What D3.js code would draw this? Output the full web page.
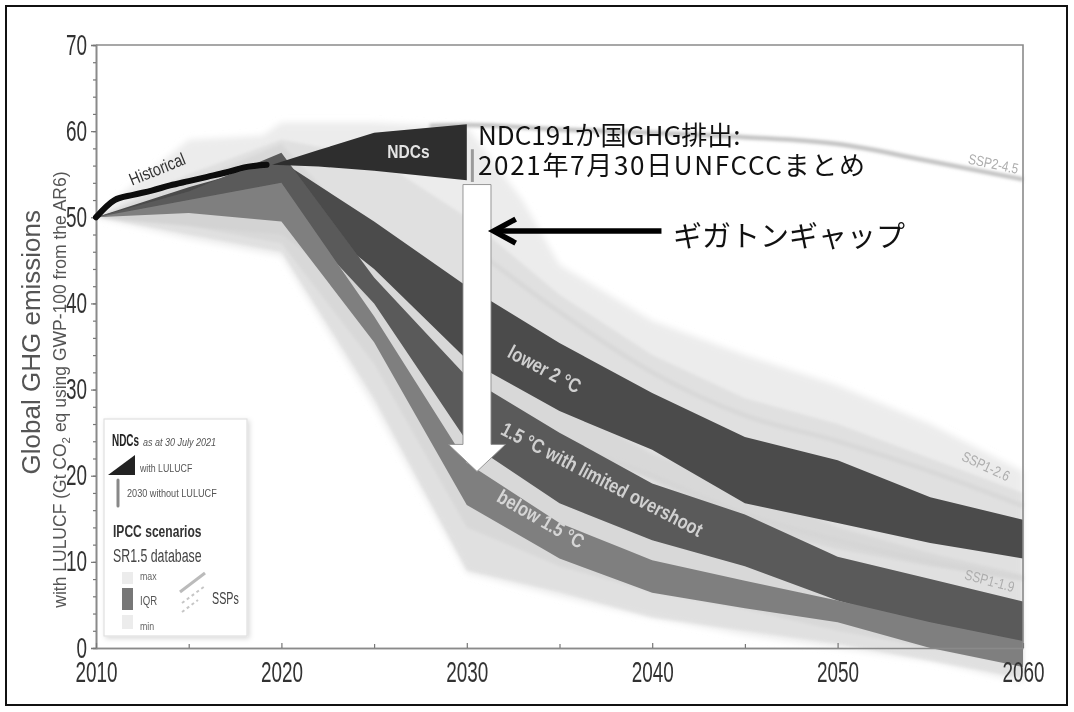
<!DOCTYPE html>
<html><head><meta charset="utf-8">
<script src="https://cdn.jsdelivr.net/npm/d3@7"></script>
<style>
html,body{margin:0;padding:0;background:#fff;}
svg{display:block;}
</style></head><body>
<svg id="chart" width="1074" height="712"></svg>
<script>
// ---- data (Gt CO2-eq) ----
const years = [2010, 2015, 2020, 2025, 2030, 2035, 2040, 2045, 2050, 2055, 2060];

const histYears  = [2010, 2011, 2012, 2013, 2014, 2015, 2016, 2017, 2018, 2019.2];
const histValues = [50.0, 52.0, 52.6, 53.1, 53.7, 54.2, 54.7, 55.2, 55.8, 56.1];

const ndcYears = [2019.5, 2022, 2025, 2030];
const ndcUpper = [56.1, 57.8, 59.8, 60.8];
const ndcLower = [56.1, 55.9, 55.4, 54.3];
const ndcNoLulucf = [54.1, 57.9];   // 2030 range without LULUCF

// IPCC SR1.5 categories: interquartile ranges
const lower2Q75 = [50, 53.5, 56.5, 49.5, 42.0, 35.4, 29.6, 24.5, 21.8, 17.5, 14.9];
const lower2Q25 = [50, 51.5, 52.5, 44.0, 33.5, 27.5, 23.0, 16.8, 14.5, 12.2, 10.4];
const limQ75    = [50, 53.0, 57.5, 43.0, 31.5, 25.0, 19.1, 15.5, 10.6,  8.0,  5.4];
const limQ25    = [50, 51.0, 51.5, 40.0, 24.0, 16.8, 12.5,  9.5,  5.5,  2.5,  0.5];
const belowQ75  = [50, 52.0, 54.0, 38.5, 21.5, 14.5, 10.2,  7.8,  5.5,  3.0,  0.8];
const belowQ25  = [50, 50.5, 49.5, 35.5, 16.6, 10.4,  6.4,  4.6,  3.0,  0.0, -2.2];

// IPCC SR1.5 categories: max / min ranges
const lower2Max = [50, 55.0, 59.0, 57.0, 50.0, 41.0, 34.0, 29.0, 26.0, 22.0, 18.0];
const lower2Min = [50, 49.0, 48.0, 40.0, 30.0, 24.0, 19.5, 14.0, 11.5,  9.5,  8.0];
const limMax    = [50, 54.0, 58.5, 47.0, 35.0, 28.5, 22.5, 19.0, 14.0, 11.0,  8.5];
const limMin    = [50, 49.0, 47.0, 33.0, 14.0,  9.5,  6.5,  4.5,  2.0,  0.0, -2.0];
const belowMax  = [50, 53.0, 56.0, 42.0, 26.0, 18.5, 13.0, 10.5,  8.0,  5.5,  3.0];
const belowMin  = [50, 48.0, 46.0, 29.0,  9.0,  6.5,  3.5,  2.0,  0.5, -1.5, -3.5];

// overall scenario envelope
const envMaxYears = [2010, 2011, 2015, 2019, 2020, 2025, 2030, 2033, 2035, 2040, 2045, 2050, 2055, 2060];
const envMax      = [50, 52, 59, 59.5, 61, 61, 60.5, 52, 44.5, 38, 34, 30.5, 26, 20.5];
const envMinYears = [2010, 2015, 2020, 2025, 2030, 2035, 2040, 2045, 2050, 2055, 2060];
const envMin      = [50, 47.5, 45.5, 28, 8.7, 6, 3.5, 1.5, 0, -1.5, -4];

// SSP pathways
const ssp245Years = [2028, 2030, 2035, 2040, 2045, 2050, 2055, 2060];
const ssp245      = [60.6, 60.7, 60.2, 59.8, 59.3, 58.5, 56.5, 54.4];
const ssp1Years   = [2030, 2035, 2040, 2045, 2050, 2055, 2060];
const ssp126      = [47, 39, 32, 27, 24, 20.5, 16.5];
const ssp119      = [30, 24, 20, 15.5, 12.5, 10, 8];

const yTicks = [0, 10, 20, 30, 40, 50, 60, 70];
const xTicks = [2010, 2020, 2030, 2040, 2050, 2060];

// gap annotation (year, from -> to)
const gapYear = 2030.55, gapFrom = 53.8, gapTo = 20.5;
const pointerValue = 48.4, pointerFrom = 2040.5, pointerTo = 2031.45;

// ---- drawing ----
const svg = d3.select("#chart");
const x = d3.scaleLinear().domain([2010, 2060]).range([96, 1023]);
const y = d3.scaleLinear().domain([0, 70]).range([648, 45]);

const SANS = "'Liberation Sans',Arial,sans-serif";
const JP = "'Noto Sans CJK JP','Noto Sans CJK SC',sans-serif";

const defs = svg.append("defs");
const mkBlur = (id, sd) => defs.append("filter").attr("id", id)
  .attr("x", "-10%").attr("y", "-10%").attr("width", "120%").attr("height", "120%")
  .append("feGaussianBlur").attr("stdDeviation", sd);
mkBlur("soft", 0.7);
mkBlur("haze", 3);
mkBlur("haze2", 1.6);
const f4 = defs.append("filter").attr("id", "shadow").attr("x", "-10%").attr("y", "-10%").attr("width", "130%").attr("height", "130%");
f4.append("feDropShadow").attr("dx", 2).attr("dy", 2).attr("stdDeviation", 2.5).attr("flood-color", "#000").attr("flood-opacity", 0.15);

svg.append("rect").attr("width", 1074).attr("height", 712).attr("fill", "#fff");

const chart = svg.append("g").attr("filter", "url(#soft)");

// condensed text helper: Liberation Sans squeezed horizontally
const ctext = (g, txt, px, py, o) => {
  o = o || {};
  const sx = o.sx || 0.82;
  return g.append("text")
    .attr("transform", `translate(${px},${py}) rotate(${o.rot || 0}) scale(${sx},1)`)
    .attr("text-anchor", o.anchor || "start")
    .attr("dominant-baseline", o.baseline || "auto")
    .attr("font-family", SANS).attr("font-size", o.size || 12)
    .attr("font-weight", o.weight || "normal")
    .attr("font-style", o.style || "normal")
    .attr("fill", o.fill || "#333").text(txt);
};

// axis lines and ticks
const yAxis = chart.append("g").attr("transform", `translate(${x(2010)},0)`)
  .call(d3.axisLeft(y).tickValues(yTicks).tickSize(5).tickPadding(4));
const yMinor = chart.append("g").attr("transform", `translate(${x(2010)},0)`)
  .call(d3.axisLeft(y).tickValues(d3.range(0, 71, 2)).tickSize(3).tickFormat(""));
const xMinor = chart.append("g").attr("transform", `translate(0,${y(0)})`)
  .call(d3.axisBottom(x).tickValues(d3.range(2015, 2060, 10)).tickSizeInner(-4).tickSizeOuter(0).tickFormat(""));
const SX = 0.63;
yAxis.selectAll(".tick text")
  .attr("font-family", SANS).attr("font-size", 30).attr("fill", "#333")
  .attr("x", -9 / SX).attr("dy", "0.3em").attr("transform", `scale(${SX},1)`);

// axis titles
chart.append("text")
  .attr("transform", `translate(40,${(y(20) + y(51)) / 2}) rotate(-90)`)
  .attr("text-anchor", "middle").attr("font-family", SANS).attr("font-size", 26).attr("fill", "#555")
  .text("Global GHG emissions");
const sub = chart.append("text")
  .attr("transform", `translate(66,${y(30)}) rotate(-90)`)
  .attr("text-anchor", "middle").attr("font-family", SANS).attr("font-size", 17.5).attr("fill", "#555");
sub.append("tspan").text("with LULUCF (Gt CO");
sub.append("tspan").attr("font-size", 11.5).attr("dy", 4).text("2");
sub.append("tspan").attr("dy", -4).text(" eq using GWP-100 from the AR6)");

// generic shapes
const bandPath = (xs, hi, lo) => d3.area()
  .x((d, i) => x(xs[i])).y0((d, i) => y(lo[i])).y1((d, i) => y(hi[i]))
  .curve(d3.curveLinear)(xs);
const linePath = (xs, vs, curve) => d3.line()
  .x((d, i) => x(xs[i])).y((d, i) => y(vs[i]))
  .curve(curve || d3.curveLinear)(xs);
const polyPath = (xTop, vTop, xBot, vBot) => {
  const pts = xTop.map((d, i) => [x(d), y(vTop[i])])
    .concat(xBot.map((d, i) => [x(d), y(vBot[i])]).reverse());
  return d3.line().curve(d3.curveLinearClosed)(pts);
};

// scenario envelope
chart.append("path").attr("d", polyPath(envMaxYears, envMax, envMinYears, envMin))
  .attr("fill", "#ececec").attr("filter", "url(#haze)");

// category max/min ranges
const rangeG = chart.append("g").attr("filter", "url(#haze2)");
[[lower2Max, lower2Min], [limMax, limMin], [belowMax, belowMin]].forEach(([hi, lo]) => {
  rangeG.append("path").attr("d", bandPath(years, hi, lo))
    .attr("fill", "#c9c9c9").attr("fill-opacity", 0.36);
});

// SSP pathways
chart.append("path").attr("d", linePath(ssp245Years, ssp245, d3.curveMonotoneX))
  .attr("fill", "none").attr("stroke", "#c2c2c2").attr("stroke-width", 4.5).attr("filter", "url(#haze2)");
[ssp126, ssp119].forEach(vs => chart.append("path")
  .attr("d", linePath(ssp1Years, vs, d3.curveMonotoneX))
  .attr("fill", "none").attr("stroke", "#d4d4d4").attr("stroke-opacity", 0.6)
  .attr("stroke-width", 5).attr("filter", "url(#haze2)"));

// interquartile ranges
chart.append("path").attr("d", bandPath(years, lower2Q75, lower2Q25)).attr("fill", "#4b4b4b");
chart.append("path").attr("d", bandPath(years, limQ75, limQ25)).attr("fill", "#5a5a5a");
chart.append("path").attr("d", bandPath(years, belowQ75, belowQ25)).attr("fill", "#7f7f7f");

// NDC wedge
chart.append("path").attr("d", bandPath(ndcYears, ndcUpper, ndcLower)).attr("fill", "#2e2e2e");
chart.append("line")
  .attr("x1", x(2030.3)).attr("x2", x(2030.3))
  .attr("y1", y(ndcNoLulucf[0])).attr("y2", y(ndcNoLulucf[1]))
  .attr("stroke", "#9a9a9a").attr("stroke-width", 3);

// historical emissions
chart.append("path").attr("d", linePath(histYears, histValues, d3.curveMonotoneX))
  .attr("fill", "none").attr("stroke", "#0a0a0a").attr("stroke-width", 6).attr("stroke-linecap", "round");

// frame and x axis
chart.append("path")
  .attr("d", `M${x(2010)},${y(70)}H${x(2060)}V${y(0)}`)
  .attr("fill", "none").attr("stroke", "#8a8a8a").attr("stroke-width", 1.6);
const xAxis = chart.append("g").attr("transform", `translate(0,${y(0)})`)
  .call(d3.axisBottom(x).tickValues(xTicks).tickFormat(d3.format("d")).tickSizeInner(-5).tickSizeOuter(0).tickPadding(13));
xAxis.selectAll(".tick text")
  .attr("font-family", SANS).attr("font-size", 30).attr("fill", "#333")
  .attr("transform", `scale(${SX},1)`);
[yAxis, yMinor, xAxis, xMinor].forEach(g => {
  g.selectAll(".domain").attr("stroke", "#8a8a8a").attr("stroke-width", 1.6);
  g.selectAll(".tick line").attr("stroke", "#777").attr("stroke-width", 1.2);
});

// in-chart labels
const label = (txt, yr, v, ang, size, fill, weight, sx) =>
  ctext(chart, txt, x(yr), y(v), { rot: ang, size: size, fill: fill, weight: weight, sx: sx || 0.82, anchor: "middle", baseline: "central" });

label("Historical", 2013.3, 55.6, -22, 17.5, "#333");
label("NDCs", 2026.85, 57.7, 0, 19, "#e4e4e4", "bold");
label("lower 2 °C", 2034.2, 32.4, 28, 20, "#d0d0d0", "bold");
label("1.5 °C with limited overshoot", 2037.3, 19.6, 27.5, 20, "#d0d0d0", "bold");
label("below 1.5 °C", 2034.0, 15.0, 30, 20, "#d6d6d6", "bold");
label("SSP2-4.5", 2058.4, 56.2, 12, 14.5, "#adadad");
label("SSP1-2.6", 2058.0, 21.1, 25, 14.5, "#adadad");
label("SSP1-1.9", 2058.2, 7.8, 15, 14.5, "#adadad");

// legend
const lg = chart.append("g");
lg.append("rect").attr("x", 104).attr("y", 419).attr("width", 143).attr("height", 217)
  .attr("fill", "#fff").attr("stroke", "#e0e0e0").attr("stroke-width", 1.2).attr("filter", "url(#shadow)");
ctext(lg, "NDCs", 112, 446, { size: 16, weight: "bold", sx: 0.62, fill: "#222" });
ctext(lg, "as at 30 July 2021", 143, 446, { size: 11, sx: 0.82, fill: "#555", style: "italic" });
lg.append("path").attr("d", "M108,475L135,475L135,455Z").attr("fill", "#222");
ctext(lg, "with LULUCF", 140, 472, { size: 11, sx: 0.8, fill: "#555" });
lg.append("line").attr("x1", 118).attr("x2", 118).attr("y1", 480).attr("y2", 506)
  .attr("stroke", "#888").attr("stroke-width", 3).attr("stroke-linecap", "round");
ctext(lg, "2030 without LULUCF", 127, 497, { size: 11, sx: 0.83, fill: "#555" });
ctext(lg, "IPCC scenarios", 113, 537, { size: 17, weight: "bold", sx: 0.71, fill: "#333" });
ctext(lg, "SR1.5 database", 113, 562, { size: 19, sx: 0.65, fill: "#444" });
lg.append("rect").attr("x", 122).attr("y", 572).attr("width", 11).attr("height", 12).attr("fill", "#ececec");
lg.append("rect").attr("x", 122).attr("y", 588).attr("width", 11).attr("height", 22).attr("fill", "#777");
lg.append("rect").attr("x", 122).attr("y", 615).attr("width", 11).attr("height", 14).attr("fill", "#ececec");
ctext(lg, "max", 140, 580, { size: 11, sx: 0.8, fill: "#666" });
ctext(lg, "IQR", 140, 605, { size: 12, sx: 0.8, fill: "#555" });
ctext(lg, "min", 140, 630, { size: 11, sx: 0.8, fill: "#666" });
lg.append("line").attr("x1", 180).attr("y1", 592).attr("x2", 205).attr("y2", 573)
  .attr("stroke", "#bbb").attr("stroke-width", 3);
lg.append("line").attr("x1", 182).attr("y1", 603).attr("x2", 205).attr("y2", 586)
  .attr("stroke", "#c6c6c6").attr("stroke-width", 2).attr("stroke-dasharray", "3,3");
lg.append("line").attr("x1", 182).attr("y1", 612).attr("x2", 198).attr("y2", 600)
  .attr("stroke", "#c6c6c6").attr("stroke-width", 2).attr("stroke-dasharray", "3,3");
ctext(lg, "SSPs", 212, 604, { size: 17, sx: 0.63, fill: "#444" });

// ---- annotations ----
const ann = svg.append("g");
// gap arrow
const gx = x(gapYear), gTop = y(gapFrom), gTip = y(gapTo);
const shaftHalf = 14, headHalf = 28.5, headLen = 27;
ann.append("path")
  .attr("d", `M${gx - shaftHalf},${gTop}H${gx + shaftHalf}V${gTip - headLen}H${gx + headHalf}L${gx},${gTip}L${gx - headHalf},${gTip - headLen}H${gx - shaftHalf}Z`)
  .attr("fill", "#fff").attr("stroke", "#8c8c8c").attr("stroke-width", 0.9);

// pointer arrow
const py = y(pointerValue), pTip = x(pointerTo), pTail = x(pointerFrom);
ann.append("line").attr("x1", pTip + 4).attr("x2", pTail).attr("y1", py).attr("y2", py)
  .attr("stroke", "#000").attr("stroke-width", 5.5);
ann.append("path").attr("d", `M${pTip + 22},${py - 12}L${pTip},${py}L${pTip + 22},${py + 12}`)
  .attr("fill", "none").attr("stroke", "#000").attr("stroke-width", 5.5).attr("stroke-linejoin", "miter");

ann.append("text").attr("x", 673).attr("y", 247)
  .attr("font-family", JP).attr("font-size", 29).attr("fill", "#111").text("ギガトンギャップ");
ann.append("text").attr("x", 478).attr("y", 145)
  .attr("font-family", JP).attr("font-size", 26).attr("fill", "#111").text("NDC191か国GHG排出:");
ann.append("text").attr("x", 478).attr("y", 175)
  .attr("font-family", JP).attr("font-size", 26).attr("fill", "#111")
  .attr("textLength", 387).attr("lengthAdjust", "spacing").text("2021年7月30日UNFCCCまとめ");

// outer border
svg.append("rect").attr("x", 6).attr("y", 6).attr("width", 1061).attr("height", 699)
  .attr("fill", "none").attr("stroke", "#111").attr("stroke-width", 2);
</script>
</body></html>
